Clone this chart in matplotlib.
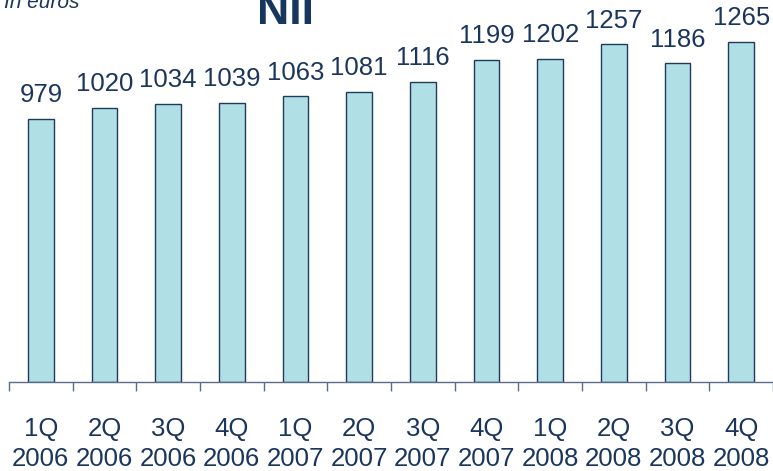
import matplotlib
matplotlib.use('Agg')
import matplotlib.pyplot as plt
import numpy as np

# ── Data ──────────────────────────────────────────────────────────────────────
quarters = ['1Q', '2Q', '3Q', '4Q', '1Q', '2Q', '3Q', '4Q', '1Q', '2Q', '3Q', '4Q']
years    = ['2006', '2006', '2006', '2006', '2007', '2007', '2007', '2007',
            '2008', '2008', '2008', '2008']
nii      = [979, 1020, 1034, 1039, 1063, 1081, 1116, 1199, 1202, 1257, 1186, 1265]

TXT  = '#1b365d'
BAR  = '#b0dfe5'
EDGE = '#1f3a60'
AXC  = '#5a6c88'

plt.rcParams['font.family'] = ['Liberation Sans', 'DejaVu Sans']

fig = plt.figure(figsize=(7.73, 4.71), dpi=100, facecolor='white')
ax = fig.add_axes([9 / 773, 1 - 382 / 471, 1 - 9 / 773, 382 / 471])

x = np.arange(len(nii))
ax.bar(x, nii, width=0.4, color=BAR, edgecolor=EDGE, linewidth=1.0, zorder=2)

# value labels above bars
for xi, v in zip(x, nii):
    ax.annotate(f'{v}', (xi, v), xytext=(0, 8.5), textcoords='offset points',
                ha='center', va='bottom', fontsize=18.5, color=TXT)

ax.set_xlim(-0.5, len(nii) - 0.5)
ax.set_ylim(0, 1422)
ax.set_facecolor('none')

for s in ['top', 'right', 'left']:
    ax.spines[s].set_visible(False)
ax.spines['bottom'].set_color(AXC)
ax.spines['bottom'].set_linewidth(1.0)

ax.set_yticks([])
# ticks sit between categories
ax.set_xticks(np.arange(-0.5, len(nii)), minor=False)
ax.set_xticklabels([])
ax.tick_params(axis='x', which='major', direction='out', length=6.5,
               width=1.0, color=AXC)

ax.set_xticks(x, minor=True)
ax.set_xticklabels([f'{q}\n{y}' for q, y in zip(quarters, years)], minor=True,
                   fontsize=18.5, color=TXT, linespacing=1.35)
ax.tick_params(axis='x', which='minor', length=0, pad=25)

fig.text(257 / 773, 1 - 24 / 471, 'NII', ha='left', va='baseline',
         fontsize=32, fontweight='bold', color='#17365d')
fig.text(4 / 773, 1 - 8 / 471, 'In euros', ha='left', va='baseline',
         fontsize=15, style='italic', color=TXT)

fig.savefig('out.png', dpi=100, facecolor='white')
plt.close(fig)
